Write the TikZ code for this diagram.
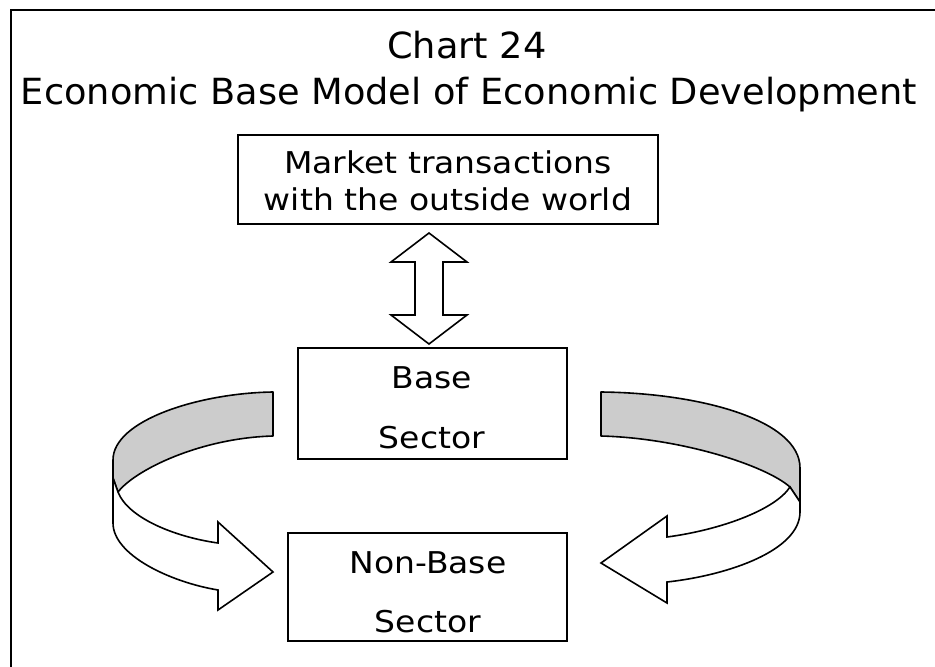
\documentclass[tikz,border=0pt]{standalone}
\usepackage{fontspec}
\setmainfont{DejaVu Sans}
\newfontfamily\boxfont[FakeStretch=1.1]{DejaVu Sans}
\newfontfamily\titlefont[FakeStretch=1.02]{DejaVu Sans}
\begin{document}
\begin{tikzpicture}[x=1pt,y=-1pt,
  frame/.style={line width=2pt},
  box/.style={draw, line width=2pt, inner sep=0pt},
  lbl/.style={anchor=base, inner sep=0pt, font=\boxfont\fontsize{30}{37}\selectfont},
  ttl/.style={anchor=base, inner sep=0pt, font=\titlefont\fontsize{36}{42}\selectfont},
  band/.style={draw, line width=1.6pt, line join=round, fill=gray!40},
  ribbon/.style={draw, line width=1.6pt, line join=miter, fill=white},
  dbl/.style={draw, line width=1.6pt, fill=white}]
\useasboundingbox (0,0) rectangle (935,667);
% frame
\draw[frame] (11,667) -- (11,10) -- (935,10);
% title
\node[ttl] (t1) at (467,58) {Chart 24};
\node[ttl] (t2) at (469,104) {Economic Base Model of Economic Development};
% boxes
\node[box, minimum width=420pt, minimum height=89pt] (market) at (448,179.5) {};
\node[lbl] (m1) at (448,173) {Market transactions};
\node[lbl] (m2) at (448,210) {with the outside world};
\node[box, minimum width=269pt, minimum height=111pt] (base) at (432.5,403.5) {};
\node[lbl] (b1) at (432,388) {Base};
\node[lbl] (b2) at (432,448) {Sector};
\node[box, minimum width=279pt, minimum height=108pt] (nonbase) at (427.5,587) {};
\node[lbl] (n1) at (428,573) {Non-Base};
\node[lbl] (n2) at (428,632) {Sector};
% double arrow
\draw[dbl] (429,233) -- (467,262) -- (443,262) -- (443,315) -- (467,315) -- (429,344)
  -- (391,315) -- (415,315) -- (415,262) -- (391,262) -- cycle;
% left ribbon arrow
\draw[band] (273,392) .. controls (200,393) and (113,420) .. (113,460) -- (113,478)
  -- (118,492) .. controls (135,470) and (200,438) .. (273,436) -- cycle;
\draw[ribbon] (113,478) -- (113,523) .. controls (113,555) and (170,582) .. (218,590)
  -- (218,610) -- (273,572) -- (218,522) -- (218,543)
  .. controls (175,537) and (128,518) .. (118,492) -- cycle;
% right ribbon arrow
\draw[band] (601,392) .. controls (700,393) and (800,420) .. (800,468) -- (800,502)
  -- (790,487) .. controls (765,465) and (680,438) .. (601,436) -- cycle;
\draw[ribbon] (800,502) -- (800,512) .. controls (800,550) and (730,575) .. (667,582)
  -- (667,603) -- (601,563) -- (667,516) -- (667,537)
  .. controls (720,530) and (775,510) .. (790,487) -- cycle;
\end{tikzpicture}
\end{document}
